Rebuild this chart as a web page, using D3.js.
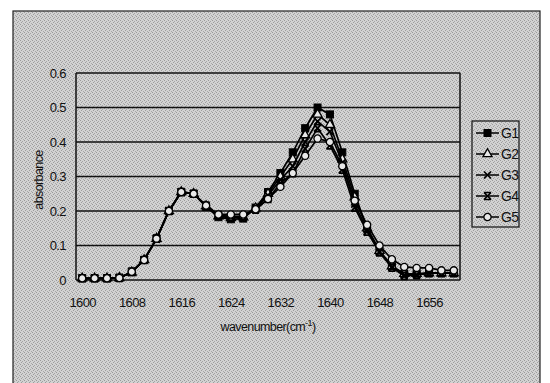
<!DOCTYPE html>
<html>
<head>
<meta charset="utf-8">
<script src="https://cdn.jsdelivr.net/npm/d3@7"></script>
<style>
  body { margin: 0; background: #fff; }
  svg text { font-family: "Liberation Sans", Arial, sans-serif; fill: #111; letter-spacing: -0.6px; }
</style>
</head>
<body>
<svg id="chart"></svg>
<script>
// data (absorbance, every 2 cm-1)
var wavenumbers = d3.range(1600, 1661, 2);
var seriesNames = ['G1', 'G2', 'G3', 'G4', 'G5'];
var yTicks = [0, 0.1, 0.2, 0.3, 0.4, 0.5, 0.6];
var xTickLabels = [1600, 1608, 1616, 1624, 1632, 1640, 1648, 1656];

var g1 = [0.005, 0.005, 0.005, 0.006, 0.022, 0.058, 0.12, 0.2, 0.255, 0.25, 0.212, 0.182, 0.176, 0.178, 0.21, 0.255, 0.31, 0.37, 0.44, 0.5, 0.48, 0.37, 0.25, 0.15, 0.085, 0.04, 0.018, 0.018, 0.02, 0.02, 0.02];
var g2 = [0.005, 0.005, 0.005, 0.006, 0.022, 0.058, 0.12, 0.2, 0.255, 0.25, 0.214, 0.185, 0.18, 0.182, 0.208, 0.25, 0.3, 0.35, 0.42, 0.48, 0.45, 0.35, 0.24, 0.15, 0.085, 0.04, 0.018, 0.018, 0.02, 0.02, 0.02];
var g3 = [0.005, 0.005, 0.005, 0.006, 0.024, 0.058, 0.12, 0.2, 0.255, 0.25, 0.215, 0.188, 0.183, 0.184, 0.206, 0.245, 0.29, 0.33, 0.4, 0.46, 0.43, 0.34, 0.22, 0.145, 0.082, 0.038, 0.015, 0.016, 0.02, 0.02, 0.02];
var g4 = [0.005, 0.005, 0.005, 0.006, 0.024, 0.058, 0.12, 0.2, 0.255, 0.25, 0.216, 0.188, 0.184, 0.185, 0.204, 0.235, 0.28, 0.31, 0.38, 0.44, 0.39, 0.32, 0.21, 0.14, 0.08, 0.036, 0.012, 0.014, 0.02, 0.02, 0.02];
var g5 = [0.005, 0.005, 0.005, 0.006, 0.024, 0.058, 0.12, 0.2, 0.255, 0.25, 0.216, 0.19, 0.19, 0.19, 0.205, 0.235, 0.27, 0.31, 0.36, 0.41, 0.4, 0.33, 0.23, 0.16, 0.1, 0.06, 0.038, 0.035, 0.035, 0.028, 0.028];

var config = {
  width: 550,
  height: 383,
  bg: '#c4c4c4',
};

var plot = { left: 76, right: 460, top: 73, bottom: 280 };

var svg = d3.select('#chart')
  .attr('width', config.width)
  .attr('height', config.height);

// speckled grey fill, like the scanned halftone
var pat = svg.append('defs').append('pattern')
  .attr('id', 'speckle')
  .attr('width', 4).attr('height', 4)
  .attr('patternUnits', 'userSpaceOnUse');
pat.append('rect').attr('width', 4).attr('height', 4).attr('fill', '#d2d2d2');
pat.append('rect').attr('x', 0).attr('y', 0).attr('width', 1).attr('height', 1).attr('fill', '#999');
pat.append('rect').attr('x', 2).attr('y', 1).attr('width', 1).attr('height', 1).attr('fill', '#a4a4a4');
pat.append('rect').attr('x', 1).attr('y', 2).attr('width', 1).attr('height', 1).attr('fill', '#9c9c9c');
pat.append('rect').attr('x', 3).attr('y', 3).attr('width', 1).attr('height', 1).attr('fill', '#a8a8a8');

// outer chart area
svg.append('rect')
  .attr('x', 13).attr('y', 11)
  .attr('width', 527).attr('height', 390)
  .attr('fill', 'url(#speckle)')
  .attr('stroke', '#222')
  .attr('stroke-width', 1.2);

// scales
var x = d3.scalePoint()
  .domain(wavenumbers)
  .range([plot.left, plot.right])
  .padding(0.5);

var y = d3.scaleLinear()
  .domain([0, 0.6])
  .range([plot.bottom, plot.top]);

// gridlines
svg.append('g')
  .selectAll('line')
  .data(yTicks)
  .join('line')
  .attr('x1', plot.left).attr('x2', plot.right)
  .attr('y1', d => y(d)).attr('y2', d => y(d))
  .attr('stroke', '#111')
  .attr('stroke-width', 1.5);

// plot border sides
svg.append('line')
  .attr('x1', plot.left).attr('x2', plot.left)
  .attr('y1', plot.top).attr('y2', plot.bottom)
  .attr('stroke', '#111').attr('stroke-width', 1.5);
svg.append('line')
  .attr('x1', plot.right).attr('x2', plot.right)
  .attr('y1', plot.top).attr('y2', plot.bottom)
  .attr('stroke', '#111').attr('stroke-width', 1.5);

// axes (labels only)
var xAxis = svg.append('g')
  .attr('transform', 'translate(0,' + plot.bottom + ')')
  .call(d3.axisBottom(x).tickValues(xTickLabels).tickSize(0).tickPadding(18));
xAxis.select('.domain').remove();
xAxis.selectAll('text').attr('font-size', 13);

var yAxis = svg.append('g')
  .attr('transform', 'translate(' + plot.left + ',0)')
  .call(d3.axisLeft(y).tickValues(yTicks).tickSize(0).tickPadding(10)
    .tickFormat(d => d === 0 ? '0' : d3.format('.1f')(d)));
yAxis.select('.domain').remove();
yAxis.selectAll('text').attr('font-size', 13);

// axis titles
var xTitle = svg.append('text')
  .attr('x', (plot.left + plot.right) / 2)
  .attr('y', 331)
  .attr('text-anchor', 'middle')
  .attr('font-size', 12.5)
  .text('wavenumber(cm');
xTitle.append('tspan').attr('dy', -5).attr('font-size', 9).text('-1');
xTitle.append('tspan').attr('dy', 5).text(')');

// y title is cut at its top end in the original
svg.append('clipPath').attr('id', 'ytitle-clip')
  .append('rect').attr('x', 25).attr('y', 141).attr('width', 30).attr('height', 90);
svg.append('g')
  .attr('clip-path', 'url(#ytitle-clip)')
  .append('text')
  .attr('transform', 'translate(43,180) rotate(-90)')
  .attr('text-anchor', 'middle')
  .attr('font-size', 12.5)
  .attr('letter-spacing', 0.6)
  .text('absorbance');

// series
var allSeries = [g1, g2, g3, g4, g5].map(function(vals, i) {
  return { name: seriesNames[i], values: vals.map((v, j) => ({ w: wavenumbers[j], v: v })) };
});

var line = d3.line()
  .x(d => x(d.w))
  .y(d => y(d.v));

// marker drawing per series
function drawMarker(sel, name) {
  if (name === 'G1') {
    sel.append('rect').attr('x', -3.5).attr('y', -3.5).attr('width', 7).attr('height', 7)
      .attr('fill', '#000').attr('stroke', '#000');
  } else if (name === 'G2') {
    sel.append('path').attr('d', d3.symbol(d3.symbolTriangle, 36)())
      .attr('fill', '#e8e8e8').attr('stroke', '#000').attr('stroke-width', 1.3);
  } else if (name === 'G3') {
    sel.append('path').attr('d', 'M-3.5,-3.5L3.5,3.5M-3.5,3.5L3.5,-3.5')
      .attr('fill', 'none').attr('stroke', '#000').attr('stroke-width', 1.7);
  } else if (name === 'G4') {
    sel.append('path').attr('d', 'M-3.5,-3.5L3.5,3.5M-3.5,3.5L3.5,-3.5M-3.5,-3.5H3.5M-3.5,3.5H3.5')
      .attr('fill', 'none').attr('stroke', '#000').attr('stroke-width', 1.7);
  } else {
    sel.append('circle').attr('r', 3.6)
      .attr('fill', '#e8e8e8').attr('stroke', '#000').attr('stroke-width', 1.3);
  }
}

var seriesG = svg.selectAll('.series')
  .data(allSeries)
  .join('g')
  .attr('class', 'series');

seriesG.append('path')
  .attr('d', d => line(d.values))
  .attr('fill', 'none')
  .attr('stroke', '#000')
  .attr('stroke-width', 1.7);

seriesG.each(function(s) {
  d3.select(this).selectAll('.pt')
    .data(s.values)
    .join('g')
    .attr('class', 'pt')
    .attr('transform', d => 'translate(' + x(d.w) + ',' + y(d.v) + ')')
    .each(function() { drawMarker(d3.select(this), s.name); });
});

// legend
var legend = svg.append('g');
legend.append('rect')
  .attr('x', 472).attr('y', 121)
  .attr('width', 47).attr('height', 106)
  .attr('fill', 'url(#speckle)')
  .attr('stroke', '#111')
  .attr('stroke-width', 1.2);

var items = legend.selectAll('.item')
  .data(seriesNames)
  .join('g')
  .attr('class', 'item')
  .attr('transform', (d, i) => 'translate(0,' + (133 + i * 21) + ')');

items.append('line')
  .attr('x1', 476).attr('x2', 499)
  .attr('stroke', '#000').attr('stroke-width', 1.5);
items.append('g')
  .attr('transform', 'translate(487.5,0)')
  .each(function(d) { drawMarker(d3.select(this), d); });
items.append('text')
  .attr('x', 501).attr('y', 5)
  .attr('font-size', 14)
  .text(d => d);
</script>
</body>
</html>
